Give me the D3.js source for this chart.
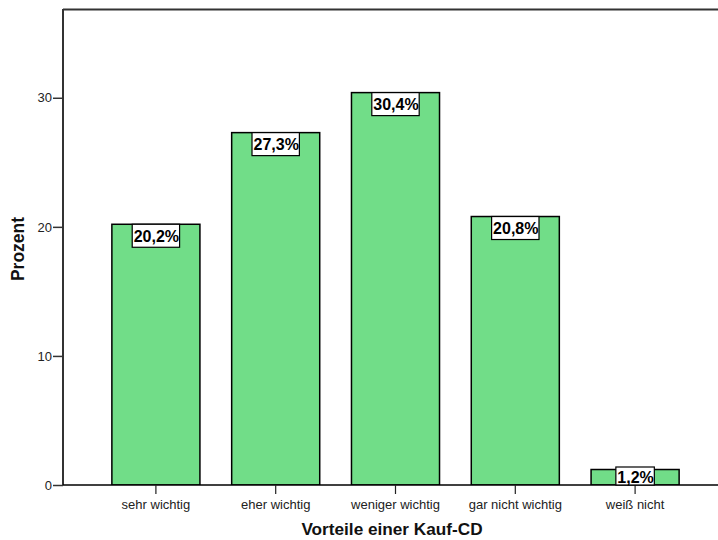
<!DOCTYPE html>
<html><head><meta charset="utf-8">
<script src="https://cdn.jsdelivr.net/npm/d3@7"></script>
<style>body{margin:0;background:#fff}svg{display:block}text{font-family:"Liberation Sans",Arial,sans-serif}</style>
</head><body>
<svg id="c" width="718" height="540"></svg>
<script>
const categories = ["sehr wichtig","eher wichtig","weniger wichtig","gar nicht wichtig","weiß nicht"];
const values = [20.2, 27.3, 30.4, 20.8, 1.2];
const labels = ["20,2%","27,3%","30,4%","20,8%","1,2%"];
const yTicks = [0,10,20,30];

(function(){
const svg = d3.select("#c");
const pL = 63, pR = 718, pT = 10, pB = 485;
const x = d3.scaleBand().domain(categories).range([96,695]).paddingInner(0.265).paddingOuter(0.1325);
const y = d3.scaleLinear().domain([0,36.8]).range([pB, pT]);

svg.append("defs").append("clipPath").attr("id","pc").append("rect")
  .attr("x",pL).attr("y",pT).attr("width",pR-pL).attr("height",pB-pT);

const g = svg.append("g").attr("clip-path","url(#pc)");
g.selectAll("rect.bar").data(values).join("rect").attr("class","bar")
  .attr("x",(d,i)=>x(categories[i])).attr("width",x.bandwidth())
  .attr("y",d=>y(d)).attr("height",d=>pB-y(d))
  .attr("fill","#71dd88").attr("stroke","#000").attr("stroke-width",1.5);

svg.append("line").attr("x1",pL).attr("x2",pR).attr("y1",pT-0.5).attr("y2",pT-0.5)
  .attr("stroke","#333").attr("stroke-width",2);

const ya = svg.append("g").attr("transform",`translate(${pL},0)`)
  .call(d3.axisLeft(y).tickValues(yTicks).tickSize(10).tickPadding(1).tickFormat(d3.format("d")));
ya.select(".domain").attr("d",`M0,${pT-1}V${pB}`).attr("stroke","#333").attr("stroke-width",2);
ya.selectAll(".tick line").attr("stroke","#333").attr("stroke-width",1.5);
ya.selectAll(".tick text").attr("font-size",13).attr("fill","#222").attr("font-family","Liberation Sans, Arial, sans-serif");

const xa = svg.append("g").attr("transform",`translate(0,${pB})`)
  .call(d3.axisBottom(x).tickSize(9).tickPadding(5.5));
xa.select(".domain").attr("d",`M${pL},0H${pR}`).attr("stroke","#000").attr("stroke-width",1.5);
xa.selectAll(".tick line").attr("stroke","#222").attr("stroke-width",1.2);
xa.selectAll(".tick text").attr("font-size",13).attr("fill","#222").attr("font-family","Liberation Sans, Arial, sans-serif");

const lab = svg.append("g").selectAll("g.lab").data(values).join("g").attr("class","lab");
lab.each(function(d,i){
  const cx = x(categories[i]) + x.bandwidth()/2;
  const t = d3.select(this).append("text").text(labels[i])
    .attr("font-size",16).attr("font-weight","bold").attr("fill","#000");
  const w = t.node().getComputedTextLength();
  const bw = w + 2;
  const boxTop = Math.min(y(d), pB-18);
  const base = Math.min(y(d)+17.3, pB-2);
  d3.select(this).insert("rect","text")
    .attr("x",cx-bw/2).attr("y",boxTop).attr("width",bw).attr("height",Math.min(23,pB-boxTop))
    .attr("fill","#fff").attr("stroke","#000").attr("stroke-width",1.2);
  t.attr("x",cx-bw/2+1.5).attr("y",base);
});

svg.append("text").attr("x",392).attr("y",535).attr("text-anchor","middle")
  .attr("font-size",17.2).attr("font-weight","bold").attr("fill","#111").text("Vorteile einer Kauf-CD");
svg.append("text").attr("transform",`translate(24,249) rotate(-90)`).attr("text-anchor","middle")
  .attr("font-size",17.5).attr("font-weight","bold").attr("fill","#111").text("Prozent");
})();
</script>
</body></html>
